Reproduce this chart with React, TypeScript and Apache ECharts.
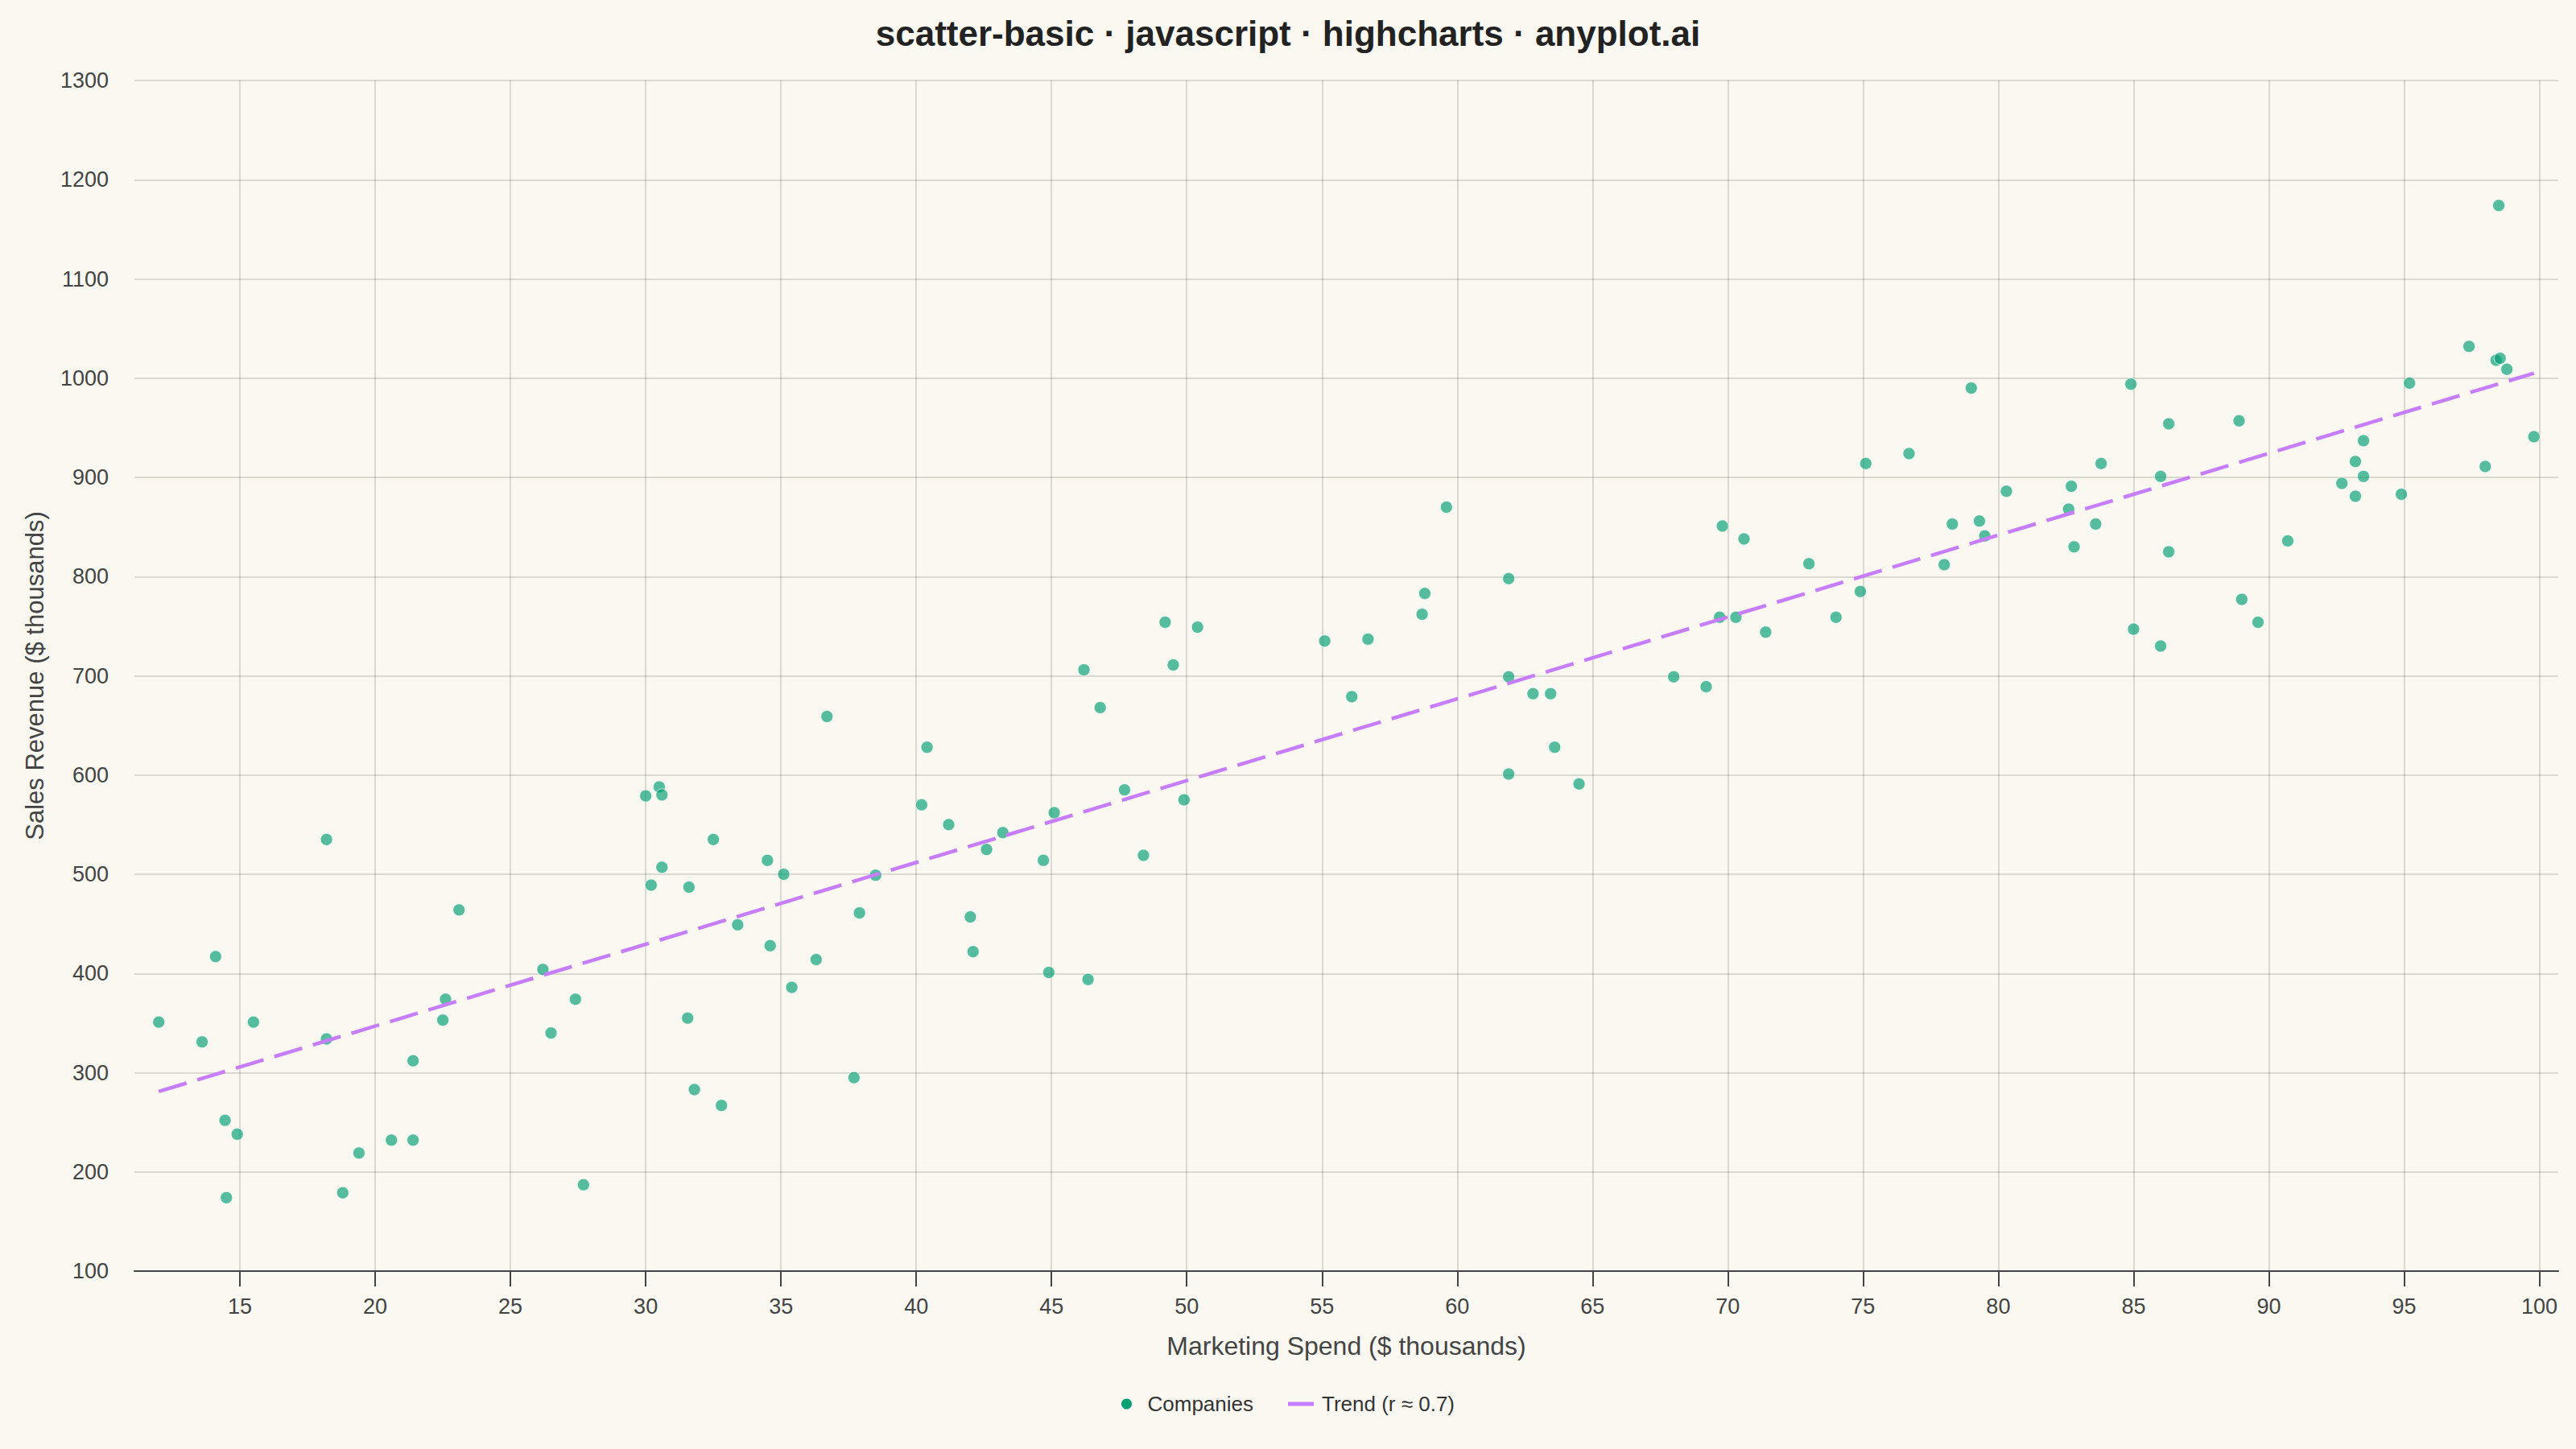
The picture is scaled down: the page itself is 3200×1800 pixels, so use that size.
import React, { useEffect, useRef } from "react";
import * as echarts from "echarts";

const TITLE = "scatter-basic · javascript · highcharts · anyplot.ai";
const X_NAME = "Marketing Spend ($ thousands)";
const Y_NAME = "Sales Revenue ($ thousands)";
const SERIES_NAME = "Companies";
const TREND_NAME = "Trend (r ≈ 0.7)";

const xTicks = [15, 20, 25, 30, 35, 40, 45, 50, 55, 60, 65, 70, 75, 80, 85, 90, 95, 100];

const spend = [
  12.0, 13.6, 14.1, 14.45, 14.5, 14.9, 15.5, 18.2, 18.2, 18.8,
  19.4, 20.6, 21.4, 21.4, 22.6, 22.5, 23.1, 26.2, 26.5, 27.4,
  27.7, 30.0, 30.5, 30.6, 30.2, 30.6, 31.6, 31.55, 31.8, 32.5,
  32.8, 33.4, 34.5, 34.6, 35.1, 35.4, 36.3, 36.7, 37.7, 37.9,
  38.5, 40.2, 40.4, 41.2, 42.0, 42.1, 42.6, 43.2, 44.7, 44.9,
  45.1, 46.2, 46.35, 46.8, 47.7, 48.4, 49.2, 49.5, 49.9, 50.4,
  55.1, 56.1, 56.7, 58.7, 58.8, 59.6, 61.9, 61.9, 61.9, 62.8,
  63.45, 63.6, 64.5, 68.0, 69.2, 69.8, 69.7, 70.3, 70.6, 71.4,
  73.0, 74.0, 74.9, 75.1, 76.7, 78.0, 78.3, 79.0, 79.3, 79.5,
  80.3, 82.6, 82.7, 82.8, 83.6, 83.8, 84.9, 85.0, 86.0, 86.0,
  86.3, 86.3, 88.9, 89.0, 89.6, 90.7, 92.7, 93.2, 93.2, 93.5,
  93.5, 94.9, 95.2, 97.4, 98.0, 98.4, 98.5, 98.55, 98.8, 99.8,
];

const revenue = [
  351, 331, 417, 252, 174, 238, 351, 535, 334, 179,
  219, 232, 232, 312, 374, 353, 464, 404, 340, 374,
  187, 579, 588, 580, 489, 507, 487, 355, 283, 535,
  267, 449, 514, 428, 500, 386, 414, 659, 295, 461,
  499, 570, 628, 550, 457, 422, 525, 542, 514, 401,
  562, 706, 394, 668, 585, 519, 754, 711, 575, 749,
  735, 679, 737, 762, 783, 870, 798, 699, 601, 682,
  682, 628, 591, 699, 689, 851, 759, 759, 838, 744,
  813, 759, 785, 914, 924, 812, 853, 990, 856, 841,
  886, 868, 891, 830, 853, 914, 994, 747, 730, 901,
  954, 825, 957, 777, 754, 836, 894, 916, 881, 937,
  901, 883, 995, 1032, 911, 1018, 1174, 1020, 1009, 941,
];

const trendX = [12.0, 99.8];
const trendY = [281, 1005];

const FONT = "'Liberation Sans', Arial, Helvetica, sans-serif";

export default function App() {
  const ref = useRef<HTMLDivElement>(null);

  useEffect(() => {
    document.body.style.margin = "0";
    if (!ref.current) return;
    const chart = echarts.init(ref.current, null, { renderer: "svg" });
    const points = spend.map((x, i) => [x, revenue[i]]);
    const trend = trendX.map((x, i) => [x, trendY[i]]);
    chart.setOption({
      animation: false,
      backgroundColor: "#FAF8F1",
      textStyle: { fontFamily: FONT },
      title: {
        text: TITLE,
        left: "center",
        top: 14,
        textStyle: { fontSize: 44, fontWeight: "bold", color: "#222222", fontFamily: FONT },
      },
      grid: { left: 167, right: 22, top: 100, bottom: 221 },
      legend: {
        top: 1726,
        left: "center",
        itemGap: 43,
        itemWidth: 32,
        itemHeight: 13,
        textStyle: { fontSize: 26, color: "#333333", fontFamily: FONT, padding: [0, 0, 0, 5] },
        data: [
          { name: SERIES_NAME, icon: "circle", itemStyle: { color: "#009E73", opacity: 1, borderWidth: 0 } },
          { name: TREND_NAME, icon: "path://M0 0H32V5H0Z", itemStyle: { color: "#C77DFF", opacity: 1 } },
        ],
      },
      xAxis: {
        type: "value",
        min: 11.1,
        max: 100.7,
        name: X_NAME,
        nameLocation: "middle",
        nameGap: 77,
        nameTextStyle: { fontSize: 32, color: "#444444", fontFamily: FONT },
        axisLine: { show: true, lineStyle: { color: "#444444", width: 2 } },
        axisTick: { show: true, length: 19, lineStyle: { color: "#444444", width: 2 }, customValues: xTicks },
        axisLabel: { customValues: xTicks, fontSize: 27, color: "#444444", margin: 30, fontFamily: FONT },
        splitLine: { show: true, lineStyle: { color: "rgba(40,40,20,0.15)", width: 2 } },
      },
      yAxis: {
        type: "value",
        min: 100,
        max: 1300,
        interval: 100,
        name: Y_NAME,
        nameLocation: "middle",
        nameGap: 108,
        nameTextStyle: { fontSize: 31, color: "#444444", fontFamily: FONT },
        axisLine: { show: false },
        axisTick: { show: false },
        axisLabel: {
          fontSize: 27,
          color: "#444444",
          margin: 32,
          fontFamily: FONT,
          formatter: (v: number) => String(v),
        },
        splitLine: { show: true, lineStyle: { color: "rgba(40,40,20,0.15)", width: 2 } },
      },
      series: [
        {
          name: SERIES_NAME,
          type: "scatter",
          data: points,
          symbolSize: 15,
          itemStyle: { color: "#009E73", opacity: 0.66, borderColor: "#ffffff", borderWidth: 1 },
          z: 2,
        },
        {
          name: TREND_NAME,
          type: "line",
          data: trend,
          showSymbol: false,
          symbol: "none",
          lineStyle: { color: "#C77DFF", width: 4.5, type: [36, 14] },
          z: 3,
        },
      ],
    });
    return () => chart.dispose();
  }, []);

  return <div ref={ref} style={{ width: 3200, height: 1800 }} />;
}
